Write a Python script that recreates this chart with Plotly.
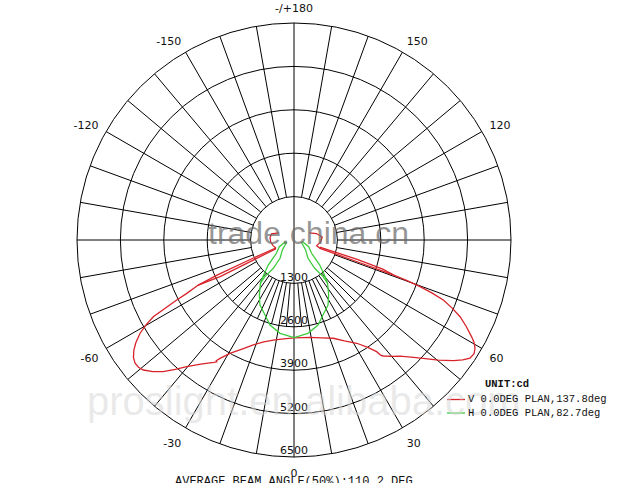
import plotly.graph_objects as go

# ---------------- data ----------------
ring_values = [1300, 2600, 3900, 5200, 6500]
ring_labels = ["1300", "2600", "3900", "5200", "6500"]
angle_tickvals = [0, 30, 60, 120, 150, 180, 210, 240, 300, 330]
angle_ticktext = ["0", "30", "60", "120", "150", "-/+180", "-150", "-120", "-60", "-30"]

series_names = ["V 0.0DEG PLAN,137.8deg", "H 0.0DEG PLAN,82.7deg"]
unit_label = "UNIT:cd"
footer_text = "AVERAGE BEAM ANGLE(50%):110.2 DEG"
watermark_1 = "trade.china.cn"
watermark_2 = "proslight.en.alibaba.com"

# V plane (red) : main outline
v_theta = [-115, -105, -95, -85, -75, -67, -64, -63.8, -63.6, -64.8, -63.5, -62.9, -61.4, -60.2,
           -58.8, -57, -55.5, -53.8, -52.2, -50.7, -49.2, -47, -44.8, -42.5, -40.3, -36.5, -33.2,
           -32.4, -32.8, -32.0, -29.5, -25.5, -21.2, -16.5, -11.7, -6, 0, 5, 9.3, 15.5, 21.8, 26.5,
           31.3, 34.5, 36.5, 37.0, 37.6, 40, 42.4, 45, 47.5, 50.2, 52.9, 54.6, 56.1, 57.7, 59.1,
           60.4, 61.4, 63.3, 65.2, 66.7, 68.1, 69.0, 69.7, 70.2, 70.6, 71.0, 72.3, 76, 86, 96, 106, 115]
v_r = [500, 700, 720, 700, 650, 600, 620, 1360, 2470, 3170, 3600, 3946, 4800, 5100,
       5390, 5650, 5820, 5960, 6025, 6020, 5960, 5780, 5560, 5260, 4970, 4620, 4380,
       4320, 4300, 4180, 3900, 3620, 3370, 3180, 3060, 2980, 2930, 2935, 2955, 3040, 3170, 3380,
       3620, 3900, 4160, 4330, 4385, 4550, 4710, 4960, 5250, 5620, 5990, 6200, 6350, 6380, 6320,
       6200, 6060, 5780, 5480, 5160, 4820, 4420, 4025, 3600, 3150, 2000, 818, 700, 800, 850, 700, 500]
# V plane : second (doubled) strokes near the centre
v2_theta = [-66.5, -66.0, -65.5, -64.8, None, 74.5, 73.0, 71.8, 70.6]
v2_r = [600, 1400, 2500, 3170, None, 800, 2000, 2800, 3150]

# H plane (green)
h_theta = [-80, -65.5, -53, -48, -45.8, -41.2, -37.8, -32.2, -27.6, -21.1, -15.8, -8.5, 0,
           8.5, 15.8, 21.1, 27.6, 32.2, 37.8, 41.2, 45.8, 48, 53, 65.5, 80]
h_r = [250, 484, 660, 900, 1075, 1366, 1640, 1950, 2200, 2410, 2645, 2827, 2925,
       2827, 2645, 2410, 2200, 1950, 1640, 1366, 1075, 900, 660, 484, 250]
h2_theta = [-75, -50, -37.4, -36.2, -38.5, -37.8, None, 75, 50, 37.4, 36.2, 38.5, 37.8]
h2_r = [225, 450, 690, 1050, 1400, 1640, None, 225, 450, 690, 1050, 1400, 1640]

# ---------------- figure ----------------
fig = go.Figure()

# spokes of the polar grid
sp_r, sp_t = [], []
r_in, r_mid, r_out = ring_values[0], ring_values[1], ring_values[-1]
for a in range(-170, 180, 10):
    if a == 0:
        continue
    sp_r += [r_in, r_out, None]
    sp_t += [a, a, None]
for a in range(-45, 50, 10):
    sp_r += [r_in, r_mid, None]
    sp_t += [a, a, None]
sp_r += [r_out, 0, r_out]
sp_t += [180, 180, 0]
fig.add_trace(go.Scatterpolar(r=sp_r, theta=sp_t, mode="lines",
                              line=dict(color="black", width=1), hoverinfo="skip"))

red = "#d8232a"
green = "#3ccc3c"
fig.add_trace(go.Scatterpolar(r=v_r, theta=v_theta, mode="lines", name=series_names[0],
                              line=dict(color=red, width=1.3)))
fig.add_trace(go.Scatterpolar(r=v2_r, theta=v2_theta, mode="lines",
                              line=dict(color=red, width=1.3)))
fig.add_trace(go.Scatterpolar(r=h_r, theta=h_theta, mode="lines", name=series_names[1],
                              line=dict(color=green, width=1.3)))
fig.add_trace(go.Scatterpolar(r=h2_r, theta=h2_theta, mode="lines",
                              line=dict(color=green, width=1.3)))

# radial value labels
fig.add_trace(go.Scatterpolar(r=ring_values, theta=[0] * len(ring_values), mode="text",
                              text=ring_labels, textposition="top center",
                              textfont=dict(family="DejaVu Sans", size=11, color="#111")))

W, H = 619, 483
OFF = 0  # body margin removed via post_script
cx, cy, R = 294 - OFF, 240 - OFF, 217


def px(x):
    return (x - OFF) / W


def py(y):
    return 1 - (y - OFF) / H


fig.update_layout(
    width=W, height=H,
    margin=dict(l=0, r=0, t=0, b=0),
    paper_bgcolor="white",
    showlegend=False,
    polar=dict(
        domain=dict(x=[(cx - R) / W, (cx + R) / W], y=[1 - (cy + R) / H, 1 - (cy - R) / H]),
        bgcolor="white",
        radialaxis=dict(range=[0, ring_values[-1]], tickmode="array", tickvals=ring_values,
                        showticklabels=False, ticks="", showline=False,
                        gridcolor="black", gridwidth=1),
        angularaxis=dict(rotation=-90, direction="counterclockwise", tickmode="array",
                         tickvals=angle_tickvals, ticktext=angle_ticktext, showgrid=False,
                         showline=True, linecolor="black", linewidth=1,
                         ticks="outside", ticklen=6, tickcolor="rgba(0,0,0,0)",
                         tickfont=dict(family="DejaVu Sans", size=11, color="#111")),
    ),
)

mono = "Liberation Mono"
annotations = [
    dict(text=watermark_1, x=px(308), y=py(233), xanchor="center", yanchor="middle",
         font=dict(family="Liberation Sans", size=32, color="rgba(110,110,110,0.72)")),
    dict(text=watermark_2, x=px(85), y=py(401), xanchor="left", yanchor="middle",
         font=dict(family="Liberation Sans", size=40, color="rgba(215,215,215,0.55)")),
    dict(text="<b>" + unit_label + "</b>", x=px(483), y=py(384), xanchor="left", yanchor="middle",
         font=dict(family=mono, size=10.5, color="#111")),
    dict(text=series_names[0], x=px(466), y=py(399), xanchor="left", yanchor="middle",
         font=dict(family=mono, size=10.5, color="#111")),
    dict(text=series_names[1], x=px(466), y=py(412.5), xanchor="left", yanchor="middle",
         font=dict(family=mono, size=10.5, color="#111")),
    dict(text=footer_text, x=px(294), y=py(473), xanchor="center", yanchor="top",
         font=dict(family=mono, size=12, color="#111")),
]
for a in annotations:
    a.update(xref="paper", yref="paper", showarrow=False)
fig.update_layout(annotations=annotations)

fig.add_shape(type="line", xref="paper", yref="paper", x0=px(447), x1=px(465),
              y0=py(399.5), y1=py(399.5), line=dict(color=red, width=1.3))
fig.add_shape(type="line", xref="paper", yref="paper", x0=px(447), x1=px(465),
              y0=py(413), y1=py(413), line=dict(color=green, width=1.3))

fig.write_html("out.html",
               config={"displayModeBar": False},
               post_script="document.body.style.margin='0';document.body.style.overflow='hidden';")
